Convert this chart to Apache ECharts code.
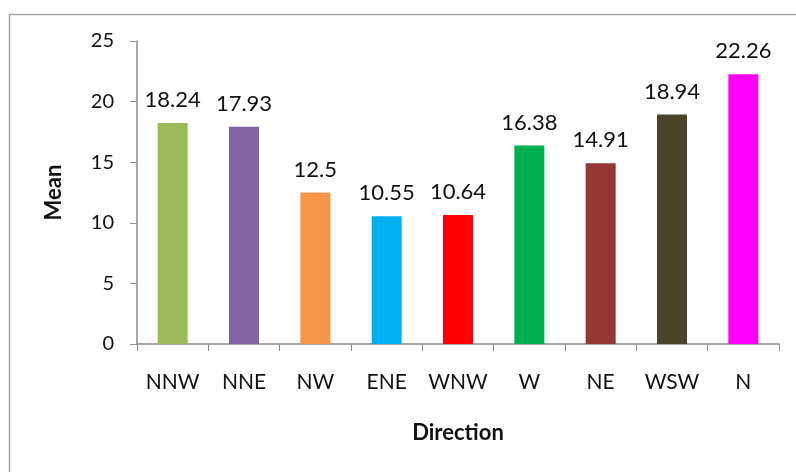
<!DOCTYPE html>
<html>
<head>
<meta charset="utf-8">
<script src="https://cdn.jsdelivr.net/npm/echarts@6/dist/echarts.min.js"></script>
<style>
  html, body { margin: 0; padding: 0; background: #fff; }
  #chart { width: 796px; height: 472px; }
</style>
</head>
<body>
<div id="chart"></div>
<script>
// Mean value per wind direction
const directions = ['NNW', 'NNE', 'NW', 'ENE', 'WNW', 'W', 'NE', 'WSW', 'N'];
const means = [18.24, 17.93, 12.5, 10.55, 10.64, 16.38, 14.91, 18.94, 22.26];
const barColors = ['#9BBB59', '#8064A2', '#F79646', '#00B0F0', '#FF0000', '#00B050', '#953735', '#4A452A', '#FF00FF'];
const yTicks = [0, 5, 10, 15, 20, 25];

const FONT = 'Lato, "Open Sans", sans-serif';
const chart = echarts.init(document.getElementById('chart'), null, { renderer: 'canvas' });

chart.setOption({
  animation: false,
  backgroundColor: '#ffffff',
  graphic: [{
    type: 'rect',
    shape: { x: 9.5, y: 14.5, width: 820, height: 500 },
    style: { fill: 'none', stroke: '#a6a6a6', lineWidth: 1.5 },
    silent: true
  }],
  grid: { left: 137, right: 17, top: 41, bottom: 128 },
  xAxis: {
    type: 'category',
    data: directions,
    name: 'Direction',
    nameLocation: 'middle',
    nameGap: 78,
    nameTextStyle: { fontFamily: FONT, fontSize: 22, fontWeight: 'bold', color: '#111' },
    axisLine: { lineStyle: { color: '#8c8c8c', width: 1.5 } },
    axisTick: { show: true, inside: false, length: 7, alignWithLabel: false, lineStyle: { color: '#8c8c8c' } },
    axisLabel: { interval: 0, hideOverlap: false, fontFamily: FONT, fontSize: 21, color: '#111', margin: 28 },
    splitLine: { show: false }
  },
  yAxis: {
    type: 'value',
    min: yTicks[0],
    max: yTicks[yTicks.length - 1],
    interval: yTicks[1] - yTicks[0],
    name: 'Mean',
    nameLocation: 'middle',
    nameGap: 72,
    nameRotate: 90,
    nameTextStyle: { fontFamily: FONT, fontSize: 22, fontWeight: 'bold', color: '#111' },
    axisLine: { show: true, lineStyle: { color: '#8c8c8c', width: 1.5 } },
    axisTick: { show: true, inside: false, length: 7, lineStyle: { color: '#8c8c8c' } },
    axisLabel: { fontFamily: FONT, fontSize: 20, color: '#111', margin: 23 },
    splitLine: { show: false }
  },
  series: [{
    type: 'bar',
    barWidth: 30,
    data: means.map((v, i) => ({ value: v, itemStyle: { color: barColors[i] } })),
    label: {
      show: true,
      position: 'top',
      distance: 12,
      fontFamily: FONT,
      fontSize: 22,
      color: '#111'
    }
  }]
});
</script>
</body>
</html>
